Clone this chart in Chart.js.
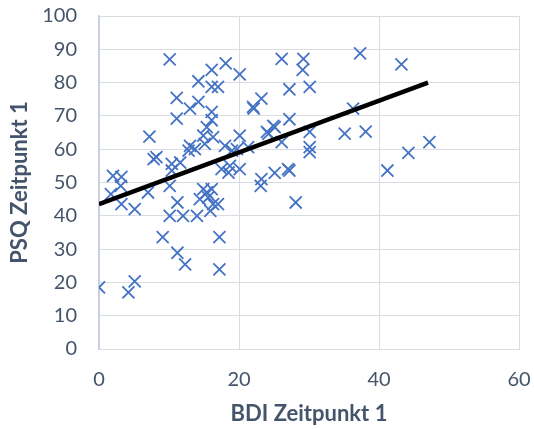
<!DOCTYPE html>
<html>
<head>
<meta charset="utf-8">
<script src="https://cdn.jsdelivr.net/npm/chart.js@4/dist/chart.umd.min.js"></script>
<style>
  html, body { margin: 0; padding: 0; background: #fff; }
  #wrap { width: 534px; height: 429px; }
</style>
</head>
<body>
<div id="wrap"><canvas id="chartBdiPsq" width="534" height="429"></canvas></div>
<script>
/* BDI vs PSQ, Zeitpunkt 1 */
const bdiValues = [
  0, 4.2, 5.1, 2.0, 3.2, 3.1, 1.7, 3.2, 5.1, 7, 7.8, 7.2, 9.1, 11.2, 12.3, 17.2, 17.2,
  10.1, 12, 14, 11.2, 10.1, 14.4, 15.4, 16.3, 15.9, 8.2, 10.4, 11.6, 10.4, 12.8, 13.7,
  15.1, 18, 17.5, 18.7, 18.5, 14.9, 16.1, 15.6, 17, 10.1, 16.1, 18.1, 20.1, 14.2, 16.1,
  17, 11.1, 14.2, 13, 11.1, 16.1, 16.1, 15.4, 14.9, 16.3, 22, 13, 26.1, 29.2, 29.1,
  37.3, 43.2, 27.2, 30.1, 23.2, 36.3, 27.2, 24.9, 24, 20.1, 30.1, 35.1, 38.1, 26.1,
  30.1, 30.1, 21.3, 19.7, 47.2, 44.2, 41.2, 20.1, 23.2, 23.1, 25.1, 27.2, 28.1, 19,
  22.1, 24.2, 25.1, 27
];
const psqValues = [
  18.5, 17, 20.3, 52, 51.7, 49, 46.5, 43.5, 42, 47, 57, 63.8, 33.6, 28.9, 25.4, 33.6, 23.9,
  40, 40, 40, 44, 49, 45, 47, 43.5, 41.5, 57.6, 55.6, 56, 53.6, 59.6, 60,
  61.6, 61, 54, 55, 53, 48, 48, 45.5, 43.5, 87, 83.8, 85.8, 82.5, 80.4, 78.7,
  78.7, 75.4, 74.2, 72.2, 69.2, 71.2, 68.7, 66.6, 64.1, 63.6, 72.7, 61, 87.1, 87.1, 83.8,
  88.8, 85.5, 78, 78.7, 75.2, 72.2, 69, 67, 65.2, 64.1, 65.2, 64.7, 65.3, 62.1,
  60.6, 59.1, 60.6, 60, 62.1, 58.9, 53.6, 54, 51, 49, 52.9, 53.6, 44, 59.6,
  72.2, 64.6, 66.6, 54
];
// Linear trend line ends
const trendX = [0, 47];
const trendY = [43.5, 80];

const xTicks = [0, 20, 40, 60];
const yTicks = [0, 10, 20, 30, 40, 50, 60, 70, 80, 90, 100];

const points = [];
for (let i in bdiValues) {
  points.push({ x: bdiValues[i], y: psqValues[i] });
}
const trend = [];
for (let i in trendX) {
  trend.push({ x: trendX[i], y: trendY[i] });
}

const fontFamily = 'Lato, "Open Sans", sans-serif';
const gridColor = '#d9dde3';
const textColor = '#44546a';

const ctx = document.getElementById('chartBdiPsq').getContext('2d');
const myChart = new Chart(ctx, {
  type: 'scatter',
  data: {
    datasets: [
      {
        data: points,
        pointStyle: 'crossRot',
        pointRadius: 8.5,
        pointHoverRadius: 8.5,
        borderColor: '#4472c4',
        backgroundColor: '#4472c4',
        pointBorderWidth: 1.8,
        order: 2,
      },
      {
        type: 'line',
        data: trend,
        borderColor: '#000000',
        borderWidth: 4.5,
        pointRadius: 0,
        pointHoverRadius: 0,
        fill: false,
        order: 1,
      },
    ],
  },
  options: {
    responsive: false,
    animation: false,
    layout: {
      padding: { top: 16, right: 15, left: 0, bottom: 0 },
    },
    scales: {
      x: {
        type: 'linear',
        min: 0,
        max: 60,
        afterBuildTicks: (scale) => {
          scale.ticks = xTicks.map((v) => ({ value: v }));
        },
        afterFit: (scale) => {
          scale.height = 80;
        },
        // tick marks hidden, only used to push the labels down
        grid: { color: gridColor, lineWidth: 1, tickLength: 17, tickColor: 'rgba(0,0,0,0)' },
        border: { color: gridColor },
        ticks: {
          padding: 2,
          color: textColor,
          font: { family: fontFamily, size: 20 },
        },
        title: {
          display: true,
          text: 'BDI Zeitpunkt 1',
          color: textColor,
          font: { family: fontFamily, size: 22, weight: 'bold' },
          padding: { top: 0, bottom: 2 },
        },
      },
      y: {
        type: 'linear',
        min: 0,
        max: 100,
        afterBuildTicks: (scale) => {
          scale.ticks = yTicks.map((v) => ({ value: v }));
        },
        afterFit: (scale) => {
          scale.width = 99;
        },
        grid: { color: gridColor, lineWidth: 1, tickLength: 20, tickColor: 'rgba(0,0,0,0)' },
        border: { color: '#c5cede', width: 1.5 },
        ticks: {
          padding: 2,
          color: textColor,
          font: { family: fontFamily, size: 20 },
        },
        title: {
          display: true,
          text: 'PSQ Zeitpunkt 1',
          color: textColor,
          font: { family: fontFamily, size: 22, weight: 'bold' },
          padding: { top: 7, bottom: 0 },
        },
      },
    },
    plugins: {
      legend: {
        display: false,
      },
      tooltip: {
        enabled: false,
      },
    },
  },
});
</script>
</body>
</html>
